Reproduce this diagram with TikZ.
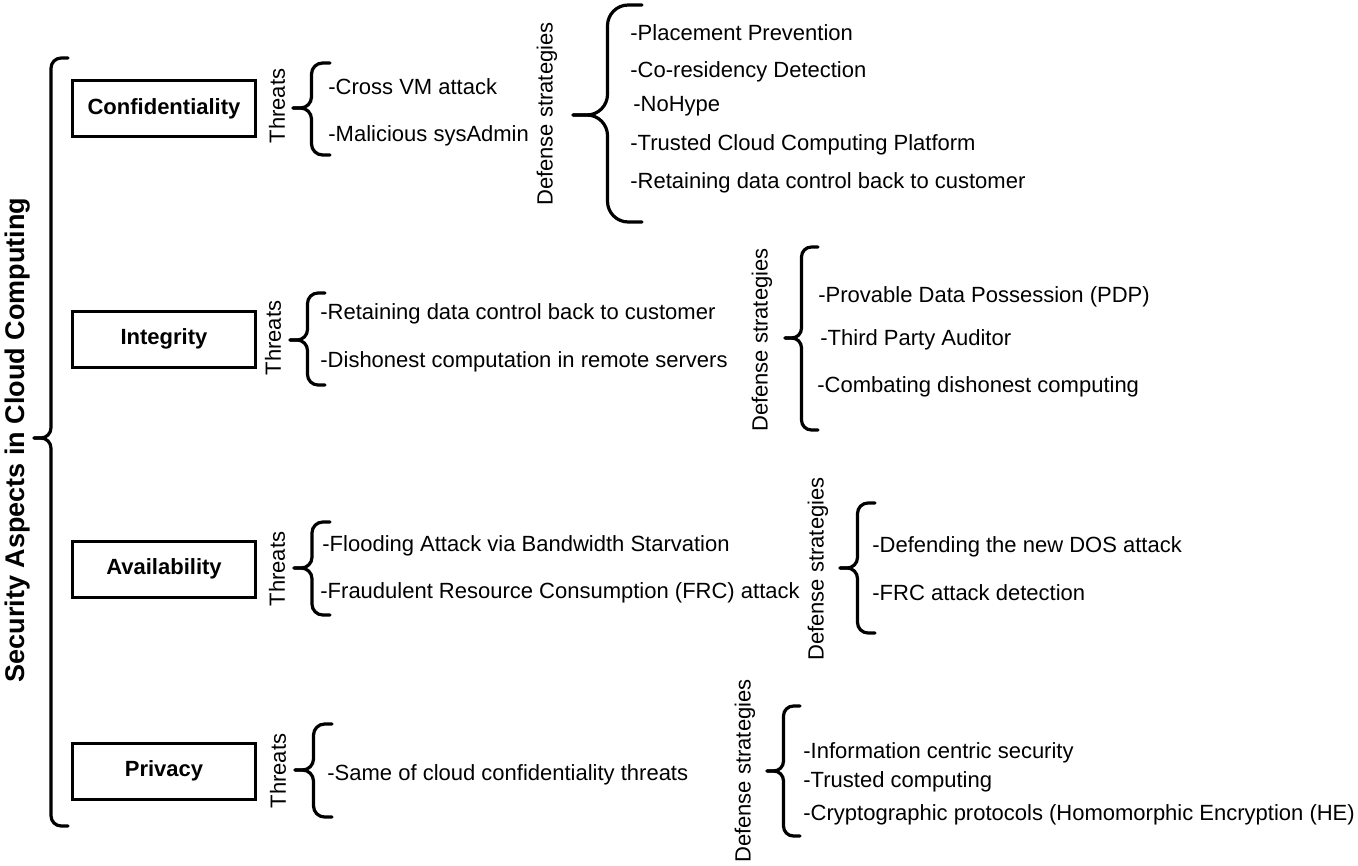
\documentclass[tikz,border=0pt]{standalone}
\usepackage{fontspec}
\setmainfont{Liberation Sans}
\usetikzlibrary{calc}

% curly bracket opening to the right: end x, top y, tip y, bottom y, half width
\newcommand{\sidebrace}[5]{%
  \draw[brc,rounded corners=#5*0.3pt] (#1,#2) -- ++(-#5,0) |- ++(-#5,#3-#2);
  \draw[brc,rounded corners=#5*0.3pt] (#1,#4) -- ++(-#5,0) |- ++(-#5,#3-#4);
}

\begin{document}
\begin{tikzpicture}[x=0.5pt,y=-0.5pt]
\tikzstyle{aspect}=[draw,line width=1.5pt,minimum width=91.5pt,minimum height=28pt,inner sep=0pt,font=\fontsize{11}{13}\selectfont\bfseries]
\tikzstyle{item}=[anchor=base west,inner sep=0pt,font=\fontsize{11}{13}\selectfont]
\tikzstyle{side}=[rotate=90,inner sep=0pt,font=\fontsize{11}{13}\selectfont]
\tikzstyle{brc}=[line width=1.6pt,line cap=round]
\useasboundingbox (0,0) rectangle (1358,866);

% title and main brace
\node[rotate=90,inner sep=0pt,font=\fontsize{13.5}{16}\selectfont\bfseries] (title) at (18,440) {Security Aspects in Cloud Computing};
\sidebrace{68}{58}{438}{826}{17}

% aspects
\node[aspect] (conf) at (164,108.5) {Confidentiality};
\node[aspect] (integ) at (164,339) {Integrity};
\node[aspect] (avail) at (164,569) {Availability};
\node[aspect] (priv) at (164,771) {Privacy};

% confidentiality
\node[side] (conf_t) at (277,106) {Threats};
\sidebrace{330}{63}{108}{155}{18.5}
\node[item] (conf_t1) at (328,95) {-Cross VM attack};
\node[item] (conf_t2) at (328,142) {-Malicious sysAdmin};
\node[side] (conf_d) at (547,114) {Defense strategies};
\sidebrace{642}{5}{115}{222}{34.5}
\node[item] (conf_d1) at (630,41) {-Placement Prevention};
\node[item] (conf_d2) at (630,78) {-Co-residency Detection};
\node[item] (conf_d3) at (633,112) {-NoHype};
\node[item] (conf_d4) at (630,151) {-Trusted Cloud Computing Platform};
\node[item] (conf_d5) at (630,189) {-Retaining data control back to customer};

% integrity
\node[side] (integ_t) at (273,338) {Threats};
\sidebrace{325}{293}{340}{385}{17.5}
\node[item] (integ_t1) at (320,319) {-Retaining data control back to customer};
\node[item] (integ_t2) at (320,367) {-Dishonest computation in remote servers};
\node[side] (integ_d) at (762,340) {Defense strategies};
\sidebrace{818}{247}{338}{430}{16.5}
\node[item] (integ_d1) at (818,302) {-Provable Data Possession (PDP)};
\node[item] (integ_d2) at (820,345) {-Third Party Auditor};
\node[item] (integ_d3) at (817,392) {-Combating dishonest computing};

% availability
\node[side] (avail_t) at (277,569) {Threats};
\sidebrace{330}{522}{568}{615}{18}
\node[item] (avail_t1) at (322,551) {-Flooding Attack via Bandwidth Starvation};
\node[item] (avail_t2) at (320,598) {-Fraudulent Resource Consumption (FRC) attack};
\node[side] (avail_d) at (818,569) {Defense strategies};
\sidebrace{875}{503}{568}{633}{17.5}
\node[item] (avail_d1) at (872,552) {-Defending the new DOS attack};
\node[item] (avail_d2) at (872,600) {-FRC attack detection};

% privacy
\node[side] (priv_t) at (278,771) {Threats};
\sidebrace{332}{724}{770}{817}{18.5}
\node[item] (priv_t1) at (327,780) {-Same of cloud confidentiality threats};
\node[side] (priv_d) at (745,771) {Defense strategies};
\sidebrace{800}{706}{771}{836}{16.5}
\node[item] (priv_d1) at (803,758) {-Information centric security};
\node[item] (priv_d2) at (803,787) {-Trusted computing};
\node[item] (priv_d3) at (803,820) {-Cryptographic protocols (Homomorphic Encryption (HE)};
\end{tikzpicture}
\end{document}
